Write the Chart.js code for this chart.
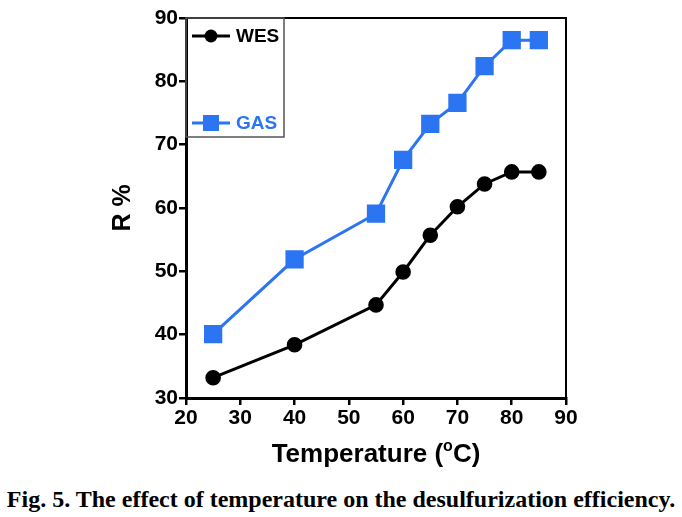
<!DOCTYPE html>
<html>
<head>
<meta charset="utf-8">
<script src="https://cdn.jsdelivr.net/npm/chart.js@4"></script>
<style>
  body { margin: 0; background: #fff; }
  #wrap { position: relative; width: 682px; height: 470px; }
  #caption { font-family: "Liberation Serif", "Times New Roman", serif; font-weight: bold; font-size: 24px; text-align: center; width: 682px; margin-top: 16px; }
</style>
</head>
<body>
<div id="wrap"><canvas id="chart"></canvas></div>
<div id="caption">Fig. 5. The effect of temperature on the desulfurization efficiency.</div>
<script>
// data
const temperatures = [25, 40, 55, 60, 65, 70, 75, 80, 85];
const wesValues = [33.2, 38.4, 44.7, 49.9, 55.7, 60.2, 63.8, 65.7, 65.7];
const gasValues = [40.1, 51.9, 59.1, 67.6, 73.3, 76.6, 82.4, 86.5, 86.5];
const xTicks = [20, 30, 40, 50, 60, 70, 80, 90];
const yTicks = [30, 40, 50, 60, 70, 80, 90];

const FONT = "'Liberation Sans', Arial, sans-serif";
const blue = '#2b74f2';

// frame on top/right + legend box + x title with superscript
const extras = {
    id: 'extras',
    afterDraw(chart) {
        const ctx = chart.ctx;
        const a = chart.chartArea;
        ctx.save();
        ctx.strokeStyle = '#000';
        ctx.lineWidth = 2;
        ctx.beginPath();
        ctx.moveTo(a.left, a.top);
        ctx.lineTo(a.right, a.top);
        ctx.lineTo(a.right, a.bottom);
        ctx.stroke();

        // legend
        ctx.strokeStyle = '#555';
        ctx.lineWidth = 1.5;
        ctx.strokeRect(a.left, a.top, 98, 119);
        const items = [
            { ds: chart.data.datasets[0], y: a.top + 18 },
            { ds: chart.data.datasets[1], y: a.top + 105 }
        ];
        items.forEach(it => {
            const x0 = a.left + 6;
            ctx.strokeStyle = it.ds.borderColor;
            ctx.lineWidth = 3;
            ctx.beginPath();
            ctx.moveTo(x0, it.y);
            ctx.lineTo(x0 + 38, it.y);
            ctx.stroke();
            ctx.fillStyle = it.ds.backgroundColor;
            if (it.ds.pointStyle === 'rect') {
                ctx.fillRect(x0 + 11, it.y - 8, 16, 16);
            } else {
                ctx.beginPath();
                ctx.arc(x0 + 19, it.y, 6.5, 0, Math.PI * 2);
                ctx.fill();
            }
            ctx.fillStyle = it.ds.borderColor;
            ctx.font = 'bold 19px ' + FONT;
            ctx.textBaseline = 'middle';
            ctx.textAlign = 'left';
            ctx.fillText(it.ds.label, x0 + 44, it.y + 1);
        });

        // x axis title with superscript o
        ctx.fillStyle = '#000';
        ctx.textBaseline = 'alphabetic';
        const big = 'bold 26px ' + FONT, small = 'bold 16px ' + FONT;
        const p1 = 'Temperature (', p2 = 'o', p3 = 'C)';
        ctx.font = big; const w1 = ctx.measureText(p1).width, w3 = ctx.measureText(p3).width;
        ctx.font = small; const w2 = ctx.measureText(p2).width;
        let x = (a.left + a.right) / 2 - (w1 + w2 + w3) / 2;
        const yb = 462;
        ctx.font = big; ctx.fillText(p1, x, yb); x += w1;
        ctx.font = small; ctx.fillText(p2, x, yb - 11); x += w2;
        ctx.font = big; ctx.fillText(p3, x, yb);
        ctx.restore();
    }
};

new Chart(document.getElementById('chart'), {
    type: 'line',
    data: {
        datasets: [
            {
                label: 'WES',
                data: temperatures.map((t, i) => ({ x: t, y: wesValues[i] })),
                borderColor: '#000',
                backgroundColor: '#000',
                borderWidth: 3,
                pointStyle: 'circle',
                pointRadius: 6.3,
                pointHoverRadius: 6.3
            },
            {
                label: 'GAS',
                data: temperatures.map((t, i) => ({ x: t, y: gasValues[i] })),
                borderColor: blue,
                backgroundColor: blue,
                borderWidth: 3,
                pointStyle: 'rect',
                pointRadius: 10.8,
                pointHoverRadius: 10.8
            }
        ]
    },
    options: {
        responsive: true,
        maintainAspectRatio: false,
        animation: false,
        layout: { padding: { left: 108, right: 116, top: 18, bottom: 0 } },
        plugins: { legend: { display: false }, tooltip: { enabled: false } },
        scales: {
            x: {
                type: 'linear',
                min: 20, max: 90,
                afterBuildTicks: s => { s.ticks = xTicks.map(v => ({ value: v })); },
                afterFit: s => { s.height = 72; },
                grid: { drawOnChartArea: false, color: '#000', lineWidth: 2.5, tickLength: 7 },
                border: { color: '#000', width: 3 },
                ticks: { color: '#000', font: { family: FONT, size: 21, weight: 'bold' }, padding: 1, maxRotation: 0 }
            },
            y: {
                min: 30, max: 90,
                afterBuildTicks: s => { s.ticks = yTicks.map(v => ({ value: v })); },
                afterFit: s => { s.width = 78; },
                grid: { drawOnChartArea: false, color: '#000', lineWidth: 2.5, tickLength: 7 },
                border: { color: '#000', width: 3 },
                ticks: { color: '#000', font: { family: FONT, size: 21, weight: 'bold' }, padding: 1 },
                title: { display: true, text: 'R %', color: '#000', font: { family: FONT, size: 25, weight: 'bold' }, padding: 0 }
            }
        }
    },
    plugins: [extras]
});
</script>
</body>
</html>
